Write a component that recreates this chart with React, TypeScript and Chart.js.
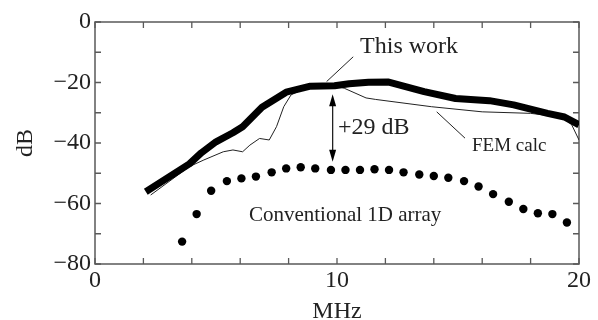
import React, { useEffect, useRef } from "react";
import { Chart, registerables } from "chart.js";

Chart.register(...registerables);

// "This work" measured response (thick line)
const thisWorkMHz = [2.1, 3.9, 4.4, 5.0, 5.7, 6.1, 6.9, 7.9, 8.9, 9.9, 10.5, 11.3, 12.1, 13.6, 14.9, 16.3, 17.3, 18.7, 19.4, 20.0];
const thisWorkDB = [-56.1, -46.9, -43.2, -39.6, -36.6, -34.6, -28.2, -23.2, -21.2, -21.1, -20.4, -19.9, -19.8, -23.0, -25.3, -26.0, -27.4, -30.2, -31.4, -34.0];

// FEM calculation (thin line)
const femMHz = [2.3, 3.9, 4.5, 5.3, 5.7, 6.1, 6.4, 6.8, 7.2, 7.5, 7.8, 8.1, 8.6, 9.2, 9.9, 10.3, 11.2, 11.6, 13.9, 16.0, 18.0, 19.35, 19.7, 20.0];
const femDB = [-57.2, -47.8, -45.6, -42.9, -42.3, -42.9, -40.7, -38.5, -39.0, -34.6, -28.0, -24.1, -22.2, -21.3, -21.0, -21.9, -25.1, -25.6, -28.0, -29.7, -30.2, -31.5, -34.0, -39.0];

// Conventional 1D array (dots)
const conventionalMHz = [3.6, 4.2, 4.8, 5.45, 6.05, 6.65, 7.3, 7.9, 8.5, 9.1, 9.75, 10.35, 10.95, 11.55, 12.15, 12.75, 13.4, 14.0, 14.6, 15.25, 15.85, 16.45, 17.1, 17.7, 18.3, 18.9, 19.5];
const conventionalDB = [-72.6, -63.5, -55.8, -52.6, -51.7, -51.1, -49.7, -48.4, -48.0, -48.4, -48.9, -48.9, -48.9, -48.7, -48.9, -49.7, -50.4, -50.9, -51.5, -52.6, -54.4, -56.9, -59.4, -61.8, -63.2, -63.5, -66.3];

// Tick labels
const xTickLabels = [0, 10, 20];
const yTickLabels = [0, -20, -40, -60, -80];

const FONT = "'Liberation Serif', 'Times New Roman', serif";
const TEXT = "#222";
const FRAME = "#595959";

const toXY = (xs: number[], ys: number[]) => xs.map((x, i) => ({ x, y: ys[i] }));

const framePlugin = {
  id: "frameTicks",
  beforeDatasetsDraw(chart: any) {
    const { ctx, chartArea: a, scales } = chart;
    const xs = scales.x;
    const ys = scales.y;
    ctx.save();
    ctx.strokeStyle = FRAME;
    ctx.lineWidth = 1.5;
    ctx.strokeRect(a.left, a.top, a.right - a.left, a.bottom - a.top);
    ctx.lineWidth = 1.3;
    const tl = 6;
    ctx.beginPath();
    xs.ticks.forEach((t: any) => {
      const p = xs.getPixelForValue(t.value);
      ctx.moveTo(p, a.bottom);
      ctx.lineTo(p, a.bottom - tl);
      ctx.moveTo(p, a.top);
      ctx.lineTo(p, a.top + tl);
    });
    ys.ticks.forEach((t: any) => {
      const p = ys.getPixelForValue(t.value);
      ctx.moveTo(a.left, p);
      ctx.lineTo(a.left + tl, p);
      ctx.moveTo(a.right, p);
      ctx.lineTo(a.right - tl, p);
    });
    ctx.stroke();
    ctx.restore();
  },
};

const annotationPlugin = {
  id: "annotations",
  afterDatasetsDraw(chart: any) {
    const { ctx, scales } = chart;
    const X = (v: number) => scales.x.getPixelForValue(v);
    const Y = (v: number) => scales.y.getPixelForValue(v);
    ctx.save();
    ctx.fillStyle = TEXT;
    ctx.strokeStyle = TEXT;
    ctx.textBaseline = "middle";

    const text = (s: string, x: number, y: number, size: number, align: CanvasTextAlign) => {
      ctx.font = `${size}px ${FONT}`;
      ctx.textAlign = align;
      ctx.fillText(s, X(x), Y(y));
    };
    const line = (x1: number, y1: number, x2: number, y2: number) => {
      ctx.lineWidth = 1;
      ctx.beginPath();
      ctx.moveTo(X(x1), Y(y1));
      ctx.lineTo(X(x2), Y(y2));
      ctx.stroke();
    };

    text("This work", 12.98, -8.3, 24, "center");
    line(9.57, -19.7, 10.67, -11.5);
    text("+29 dB", 10.04, -35.0, 24, "left");
    text("FEM calc", 15.58, -41.0, 19, "left");
    line(14.12, -29.7, 15.29, -38.4);
    text("Conventional 1D array", 6.36, -63.8, 21, "left");

    // double-headed arrow
    const ax = X(9.82);
    const yTop = Y(-23.9);
    const yBot = Y(-46.2);
    ctx.lineWidth = 1.3;
    ctx.beginPath();
    ctx.moveTo(ax, yTop + 6);
    ctx.lineTo(ax, yBot - 6);
    ctx.stroke();
    ctx.fillStyle = "#000";
    ctx.beginPath();
    ctx.moveTo(ax, yTop);
    ctx.lineTo(ax - 3.5, yTop + 12);
    ctx.lineTo(ax + 3.5, yTop + 12);
    ctx.closePath();
    ctx.fill();
    ctx.beginPath();
    ctx.moveTo(ax, yBot);
    ctx.lineTo(ax - 3.5, yBot - 12);
    ctx.lineTo(ax + 3.5, yBot - 12);
    ctx.closePath();
    ctx.fill();
    ctx.restore();
  },
};

export default function App() {
  const ref = useRef<HTMLCanvasElement | null>(null);

  useEffect(() => {
    if (!ref.current) return;
    const chart = new Chart(ref.current, {
      type: "scatter",
      data: {
        datasets: [
          {
            label: "This work",
            data: toXY(thisWorkMHz, thisWorkDB),
            showLine: true,
            borderColor: "#000",
            borderWidth: 7,
            pointRadius: 0,
            borderJoinStyle: "round",
            borderCapStyle: "butt",
          },
          {
            label: "FEM calc",
            data: toXY(femMHz, femDB),
            showLine: true,
            borderColor: "#222",
            borderWidth: 1,
            pointRadius: 0,
          },
          {
            label: "Conventional 1D array",
            data: toXY(conventionalMHz, conventionalDB),
            showLine: false,
            backgroundColor: "#000",
            borderColor: "#000",
            borderWidth: 0,
            pointRadius: 4.2,
          },
        ],
      },
      options: {
        responsive: false,
        animation: false,
        devicePixelRatio: 1,
        layout: { padding: { top: 22, right: 19, left: 0, bottom: 0 } },
        plugins: { legend: { display: false }, tooltip: { enabled: false } },
        scales: {
          x: {
            type: "linear",
            min: 0,
            max: 20,
            grid: { display: false, drawTicks: false },
            border: { display: false },
            afterFit: (s: any) => {
              s.height = 56;
            },
            ticks: {
              stepSize: 2,
              autoSkip: false,
              maxRotation: 0,
              padding: 5,
              color: TEXT,
              font: { family: FONT, size: 24, lineHeight: 1 },
              callback: (v: any) => (xTickLabels.includes(Number(v)) ? String(v) : ""),
            },
            title: {
              display: true,
              text: "MHz",
              color: TEXT,
              font: { family: FONT, size: 24, lineHeight: 0.7 },
              padding: { top: 0, bottom: 0 },
            },
          },
          y: {
            type: "linear",
            min: -80,
            max: 0,
            grid: { display: false, drawTicks: false },
            border: { display: false },
            afterFit: (s: any) => {
              s.width = 95;
            },
            ticks: {
              stepSize: 10,
              autoSkip: false,
              padding: 4,
              color: TEXT,
              font: { family: FONT, size: 24, lineHeight: 1 },
              callback: (v: any) => {
                const n = Number(v);
                if (!yTickLabels.includes(n)) return "";
                return n < 0 ? "\u2212" + Math.abs(n) : String(n);
              },
            },
            title: {
              display: true,
              text: "dB",
              color: TEXT,
              font: { family: FONT, size: 24, lineHeight: 1 },
              padding: { top: 14, bottom: 0 },
            },
          },
        },
      },
      plugins: [framePlugin, annotationPlugin],
    });
    return () => chart.destroy();
  }, []);

  return (
    <div style={{ position: "fixed", left: 0, top: 0, width: 598, height: 320, background: "#fff" }}>
      <canvas ref={ref} width={598} height={320} style={{ display: "block", width: 598, height: 320 }} />
    </div>
  );
}
